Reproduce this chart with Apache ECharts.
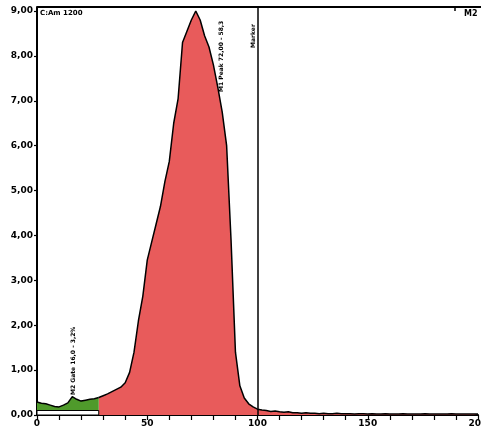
<!DOCTYPE html>
<html>
<head>
<meta charset="utf-8">
<script src="https://cdn.jsdelivr.net/npm/echarts@6/dist/echarts.min.js"></script>
<style>
  html, body { margin: 0; padding: 0; background: #fff; }
  #chart { width: 481px; height: 435px; }
</style>
</head>
<body>
<div id="chart"></div>
<script>
// histogram, one value per channel bin (bin width 2)
const binWidth = 2
const gateEnd = 28
const markerX = 100
const counts = [
  0.29, 0.26, 0.25, 0.22, 0.19, 0.18, 0.22, 0.27, 0.41, 0.35,
  0.31, 0.33, 0.35, 0.36, 0.39, 0.43, 0.47, 0.52, 0.57, 0.62,
  0.72, 0.95, 1.40, 2.10, 2.65, 3.45, 3.85, 4.25, 4.65, 5.20,
  5.65, 6.50, 7.05, 8.30, 8.55, 8.80, 9.00, 8.80, 8.45, 8.20,
  7.80, 7.30, 6.75, 6.00, 3.90, 1.40, 0.65, 0.38, 0.25, 0.18,
  0.13, 0.11, 0.10, 0.08, 0.09, 0.07, 0.06, 0.07, 0.05, 0.05,
  0.04, 0.05, 0.04, 0.04, 0.03, 0.04, 0.03, 0.03, 0.04, 0.03,
  0.03, 0.03, 0.02, 0.03, 0.03, 0.02, 0.03, 0.02, 0.02, 0.03,
  0.02, 0.02, 0.02, 0.03, 0.02, 0.02, 0.02, 0.02, 0.03, 0.02,
  0.02, 0.02, 0.02, 0.02, 0.03, 0.02, 0.02, 0.02, 0.02, 0.02,
  0.02
]
const xLabelStep = 50

const points = counts.map((c, i) => [i * binWidth, c])
const gateData = points.filter(p => p[0] <= gateEnd)
const restData = points.filter(p => p[0] >= gateEnd)

const chart = echarts.init(document.getElementById('chart'))

const labelFont = {
  color: '#000',
  fontSize: 9,
  fontWeight: 'bold',
  fontFamily: 'DejaVu Sans'
}

chart.setOption({
  animation: false,
  grid: { left: 37, right: 3, top: 7, bottom: 20, containLabel: false, outerBoundsMode: 'none' },
  xAxis: {
    type: 'value',
    min: 0,
    max: 200,
    interval: 10,
    axisLine: { show: true, lineStyle: { color: '#000', width: 2 } },
    axisTick: { show: true, length: 5, lineStyle: { color: '#000', width: 1.2 } },
    axisLabel: Object.assign({
      margin: 4,
      formatter: v => (v % xLabelStep === 0 ? String(v) : '')
    }, labelFont),
    splitLine: { show: false }
  },
  yAxis: {
    type: 'value',
    min: 0,
    max: 9.09,
    interval: 1,
    axisLine: { show: true, lineStyle: { color: '#000', width: 2 } },
    axisTick: { show: true, length: 3, lineStyle: { color: '#000', width: 1.2 } },
    axisLabel: Object.assign({
      margin: 4,
      showMaxLabel: false,
      formatter: v => v.toFixed(2).replace('.', ',')
    }, labelFont),
    splitLine: { show: false }
  },
  series: [
    {
      type: 'line',
      data: gateData,
      symbol: 'none',
      lineStyle: { color: '#000', width: 1.5 },
      areaStyle: { color: '#4f9a2b', opacity: 1 },
      z: 3,
      markArea: {
        silent: true,
        z: 6,
        itemStyle: { color: '#fff', borderColor: '#000', borderWidth: 1 },
        data: [[{ coord: [0, 0] }, { coord: [gateEnd, 0.1] }]]
      }
    },
    {
      type: 'line',
      data: restData,
      symbol: 'none',
      lineStyle: { color: '#000', width: 1.5 },
      areaStyle: { color: '#e85b5b', opacity: 1 },
      z: 2,
      markLine: {
        silent: true,
        symbol: 'none',
        label: { show: false },
        lineStyle: { color: '#000', width: 1.5, type: 'solid' },
        data: [{ xAxis: markerX }]
      }
    }
  ],
  graphic: [
    // top frame line
    { type: 'line', shape: { x1: 37, y1: 7, x2: 481, y2: 7 }, style: { stroke: '#000', lineWidth: 2 } },
    { type: 'line', shape: { x1: 455, y1: 7, x2: 455, y2: 11 }, style: { stroke: '#000', lineWidth: 1.5 } },
    { type: 'text', left: 40, top: 10, style: { text: 'C:Am 1200', fill: '#000', font: 'bold 7px DejaVu Sans' } },
    { type: 'text', left: 464, top: 10, style: { text: 'M2', fill: '#000', font: 'bold 8px DejaVu Sans' } },
    {
      type: 'text', x: 218, y: 92, rotation: Math.PI / 2,
      style: { text: 'M1 Peak 72,00 - 58,3', fill: '#000', font: 'bold 6px DejaVu Sans' }
    },
    {
      type: 'text', x: 250, y: 48, rotation: Math.PI / 2,
      style: { text: 'Marker', fill: '#000', font: 'bold 6px DejaVu Sans' }
    },
    {
      type: 'text', x: 70, y: 395, rotation: Math.PI / 2,
      style: { text: 'M2 Gate 16,0 - 3,2%', fill: '#000', font: 'bold 6px DejaVu Sans' }
    }
  ]
})
</script>
</body>
</html>
